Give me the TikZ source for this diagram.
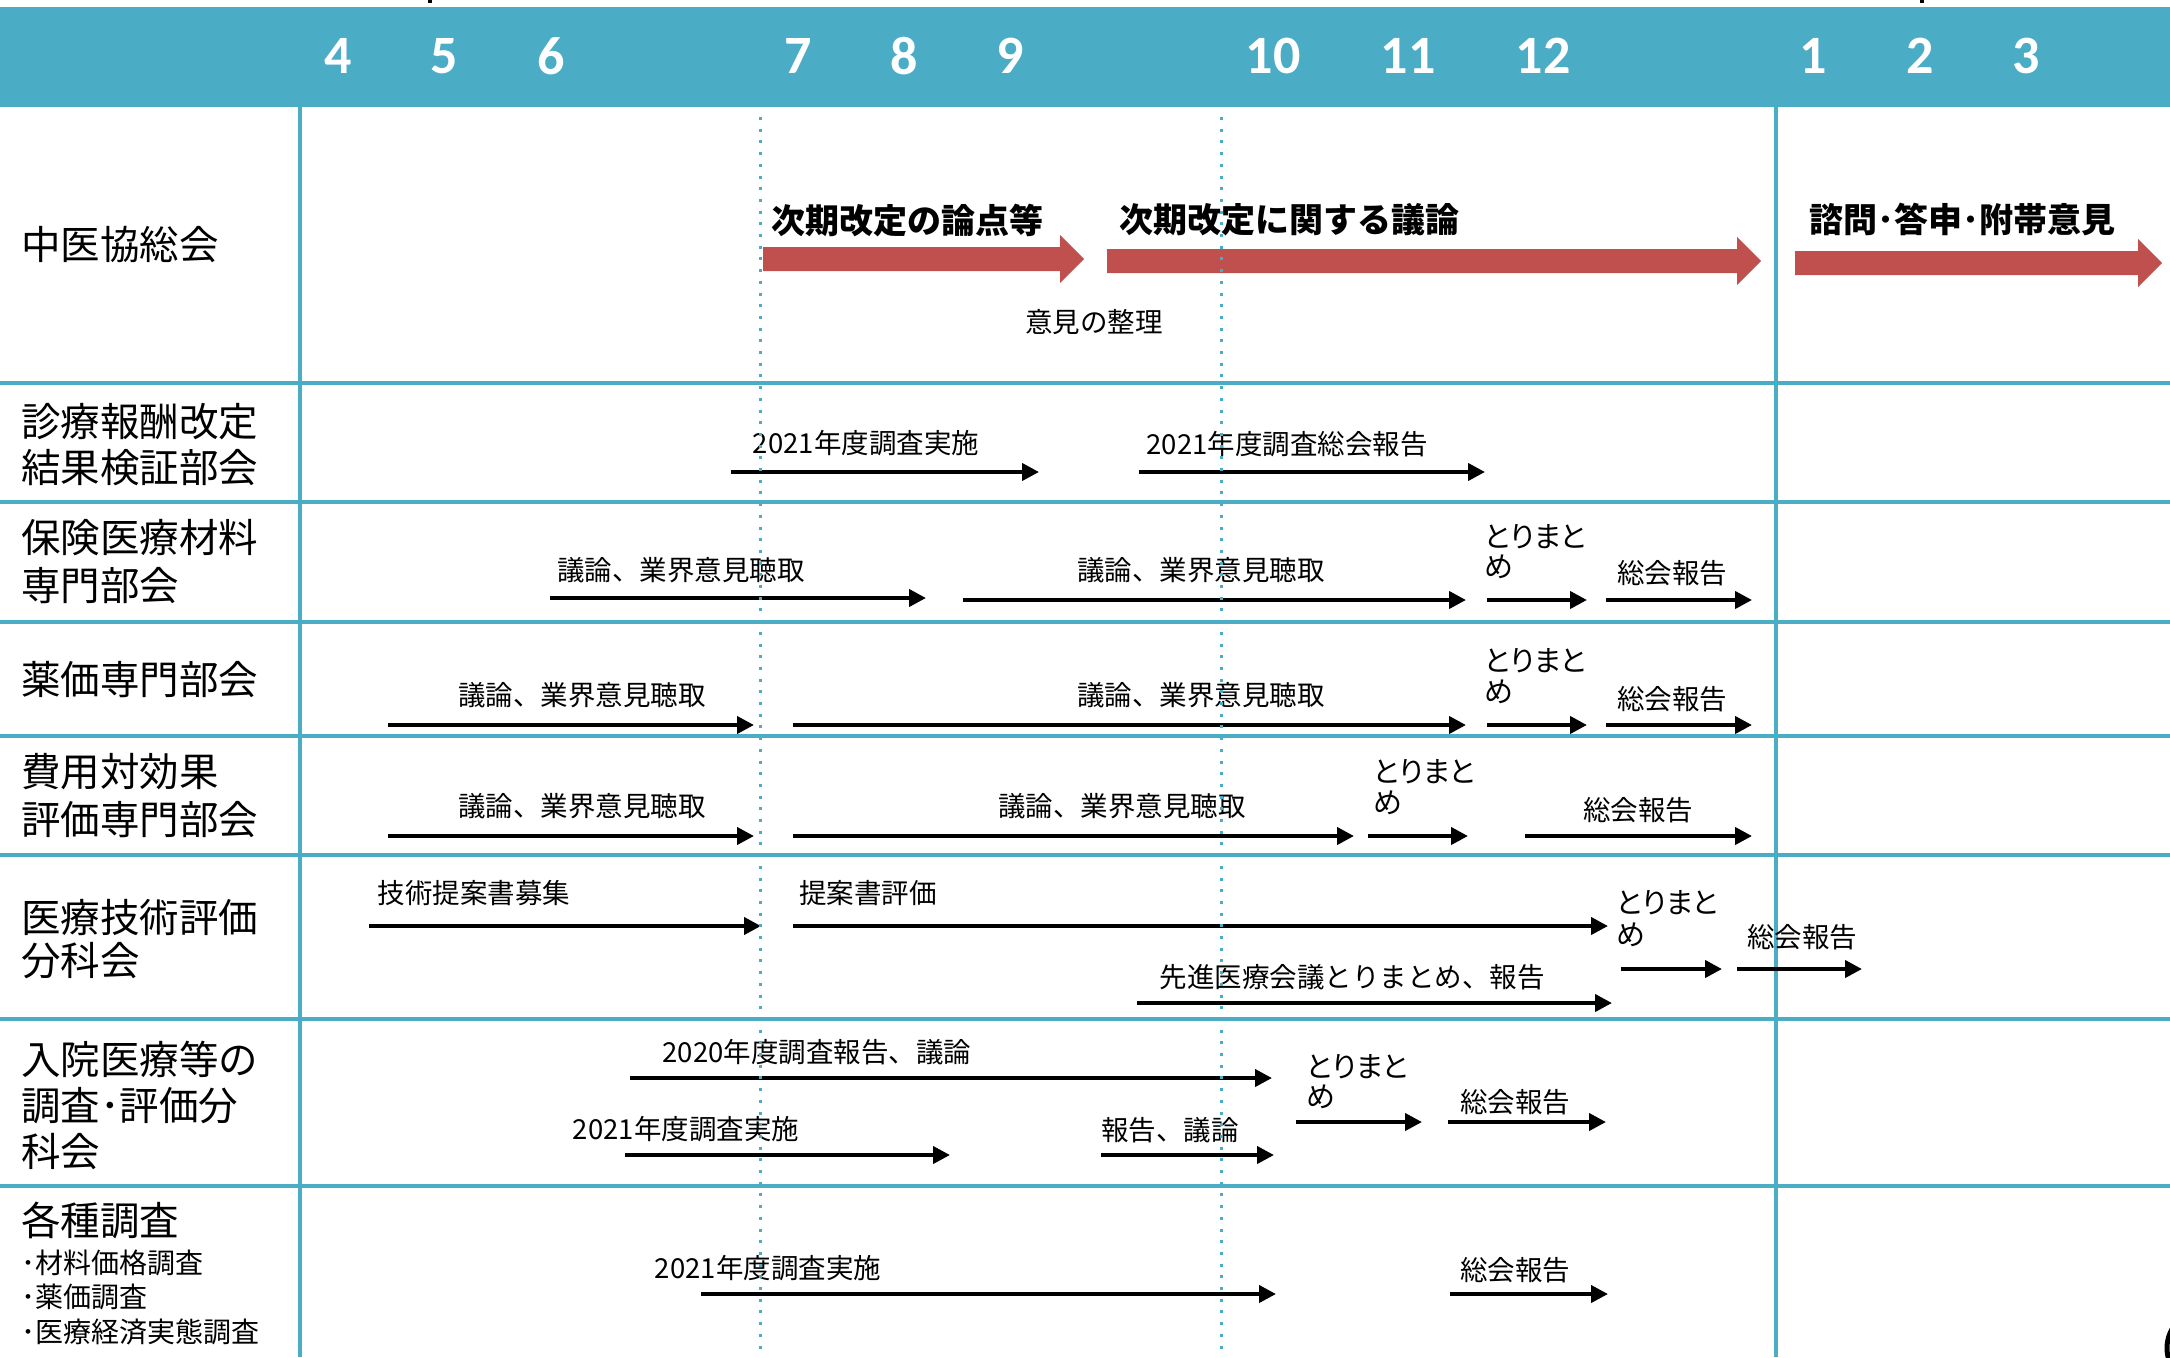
\documentclass[tikz,border=0pt]{standalone}
\usepackage{fontspec}
\setmainfont{Noto Sans CJK JP}
\newfontfamily\numfont{Carlito}
\newfontfamily\propfont{Noto Sans CJK JP}[RawFeature=+palt]
\usetikzlibrary{arrows.meta}
\definecolor{gridblue}{HTML}{4BACC6}
\definecolor{arrred}{HTML}{C0504D}
\newcommand\fsz[2]{\fontsize{#1}{#2}\selectfont}
% timeline arrow: name, x start, x tip, y
\newcommand\tlarrow[4]{\coordinate (#1s) at (#2,#4); \coordinate (#1e) at (#3,#4); \draw[tarr] (#1s) -- (#1e);}
% red block arrow: x start, x tip, y
\newcommand\redarrow[3]{\fill[arrred] (#1,{#3-12}) -- ({#2-24},{#3-12}) -- ({#2-24},{#3-24}) -- (#2,#3) -- ({#2-24},{#3+24}) -- ({#2-24},{#3+12}) -- (#1,{#3+12}) -- cycle;}
\begin{document}
\begin{tikzpicture}[x=1pt,y=-1pt,
  tarr/.style={line width=4pt,-{Triangle[length=17pt,width=17pt]}},
  gridline/.style={gridblue,line width=3.5pt},
  dotline/.style={gridblue,line width=3pt,dash pattern=on 3pt off 8.7pt},
  lab/.style={inner sep=0pt,font=\fsz{27.5}{32}},
  labw/.style={inner sep=0pt,anchor=west,font=\propfont\fsz{29}{32}},
  head/.style={inner sep=0pt,font=\bfseries\fsz{34}{40}},
  rowlab/.style={inner sep=0pt,anchor=west,align=left},
  month/.style={inner sep=0pt,text=white,font=\numfont\bfseries\fsz{54}{54}}]
\useasboundingbox (0,0) rectangle (2170,1357);
\fill[white] (0,0) rectangle (2170,1357);
% header band
\fill[gridblue] (0,7) rectangle (2170,107);
\fill[black] (428,0) rectangle (432,3);
\fill[black] (1920,0) rectangle (1924,3);
\foreach \m/\x in {4/338,5/444,6/551,7/798,8/904,9/1010,10/1273,11/1408,12/1543,1/1813,2/1920,3/2026}
  \node[month] (m\m) at (\x,56) {\m};
% grid
\foreach \y in {383,502,622,736,855,1019,1186}
  \draw[gridline] (0,\y) -- (2170,\y);
\draw[gridline] (300,107) -- (300,1357);
\draw[gridline] (1776,107) -- (1776,1357);
% row labels
\node[rowlab,font=\fsz{39.5}{46}] (L1) at (21,245) {中医協総会};
\node[rowlab,font=\fsz{39.5}{46}] (L2) at (21,445) {診療報酬改定\\結果検証部会};
\node[rowlab,font=\fsz{39.5}{48}] (L3) at (21,562) {保険医療材料\\専門部会};
\node[rowlab,font=\fsz{39.5}{46}] (L4) at (21,680) {薬価専門部会};
\node[rowlab,font=\fsz{39.5}{48}] (L5) at (21,796) {費用対効果\\評価専門部会};
\node[rowlab,font=\fsz{39.5}{43}] (L6) at (21,939) {医療技術評価\\分科会};
\node[rowlab,font=\fsz{39.5}{46}] (L7) at (21,1105) {入院医療等の\\調査･評価分\\科会};
\node[rowlab,font=\fsz{39.5}{46}] (L8) at (21,1220) {各種調査};
\node[rowlab,font=\fsz{28}{35}] (L8a) at (21,1263) {･材料価格調査};
\node[rowlab,font=\fsz{28}{35}] (L8b) at (21,1297) {･薬価調査};
\node[rowlab,font=\fsz{28}{35}] (L8c) at (21,1332) {･医療経済実態調査};
% row 1: red arrows
\redarrow{763}{1084}{259}
\redarrow{1107}{1761}{261}
\redarrow{1795}{2162}{263}
\node[head] (h1) at (907,221) {次期改定の論点等};
\node[head] (h2) at (1289,220) {次期改定に関する議論};
\node[head] (h3) at (1962,220) {諮問･答申･附帯意見};
\node[lab] (h4) at (1094,322) {意見の整理};
% row 2
\tlarrow{r2a}{731}{1039}{472}
\tlarrow{r2b}{1139}{1485}{472}
\node[lab] (t2a) at (866,443) {2021年度調査実施};
\node[lab] (t2b) at (1287,444) {2021年度調査総会報告};
% row 3
\tlarrow{r3a}{550}{926}{598}
\tlarrow{r3b}{963}{1466}{600}
\tlarrow{r3c}{1487}{1587}{600}
\tlarrow{r3d}{1606}{1752}{600}
\node[lab] (t3a) at (681,570) {議論、業界意見聴取};
\node[lab] (t3b) at (1201,570) {議論、業界意見聴取};
\node[labw] (t3c) at (1484,537) {とりまと};
\node[labw] (t3c2) at (1484,567) {め};
\node[lab] (t3d) at (1672,573) {総会報告};
% row 4
\tlarrow{r4a}{388}{754}{725}
\tlarrow{r4b}{793}{1466}{725}
\tlarrow{r4c}{1487}{1587}{725}
\tlarrow{r4d}{1606}{1752}{725}
\node[lab] (t4a) at (582,695) {議論、業界意見聴取};
\node[lab] (t4b) at (1201,695) {議論、業界意見聴取};
\node[labw] (t4c) at (1484,661) {とりまと};
\node[labw] (t4c2) at (1484,692) {め};
\node[lab] (t4d) at (1672,699) {総会報告};
% row 5
\tlarrow{r5a}{388}{754}{836}
\tlarrow{r5b}{793}{1354}{836}
\tlarrow{r5c}{1368}{1468}{836}
\tlarrow{r5d}{1525}{1752}{836}
\node[lab] (t5a) at (582,806) {議論、業界意見聴取};
\node[lab] (t5b) at (1122,806) {議論、業界意見聴取};
\node[labw] (t5c) at (1373,772) {とりまと};
\node[labw] (t5c2) at (1373,803) {め};
\node[lab] (t5d) at (1638,810) {総会報告};
% row 6
\tlarrow{r6a}{369}{761}{926}
\tlarrow{r6b}{793}{1608}{926}
\tlarrow{r6c}{1621}{1722}{969}
\tlarrow{r6d}{1737}{1862}{969}
\tlarrow{r6e}{1137}{1612}{1003}
\node[lab] (t6a) at (474,893) {技術提案書募集};
\node[lab] (t6b) at (868,893) {提案書評価};
\node[labw] (t6c) at (1616,903) {とりまと};
\node[labw] (t6c2) at (1616,935) {め};
\node[lab] (t6d) at (1802,937) {総会報告};
\node[lab] (t6e) at (1352,977) {先進医療会議とりまとめ、報告};
% row 7
\tlarrow{r7a}{630}{1272}{1078}
\tlarrow{r7b}{625}{950}{1155}
\tlarrow{r7c}{1101}{1274}{1155}
\tlarrow{r7d}{1296}{1422}{1122}
\tlarrow{r7e}{1448}{1606}{1122}
\node[lab] (t7a) at (817,1052) {2020年度調査報告、議論};
\node[lab] (t7b) at (686,1129) {2021年度調査実施};
\node[lab] (t7c) at (1170,1130) {報告、議論};
\node[labw] (t7d) at (1306,1067) {とりまと};
\node[labw] (t7d2) at (1306,1097) {め};
\node[lab] (t7e) at (1515,1102) {総会報告};
% row 8
\tlarrow{r8a}{701}{1276}{1294}
\tlarrow{r8b}{1450}{1608}{1294}
\node[lab] (t8a) at (768,1268) {2021年度調査実施};
\node[lab] (t8b) at (1515,1270) {総会報告};
% dotted month markers
\draw[dotline] (760,117) -- (760,1357);
\draw[dotline] (1221,117) -- (1221,1357);
% clipped page mark at bottom right
\draw[black,line width=5pt] (2205,1348) circle[radius=38];
\end{tikzpicture}
\end{document}
